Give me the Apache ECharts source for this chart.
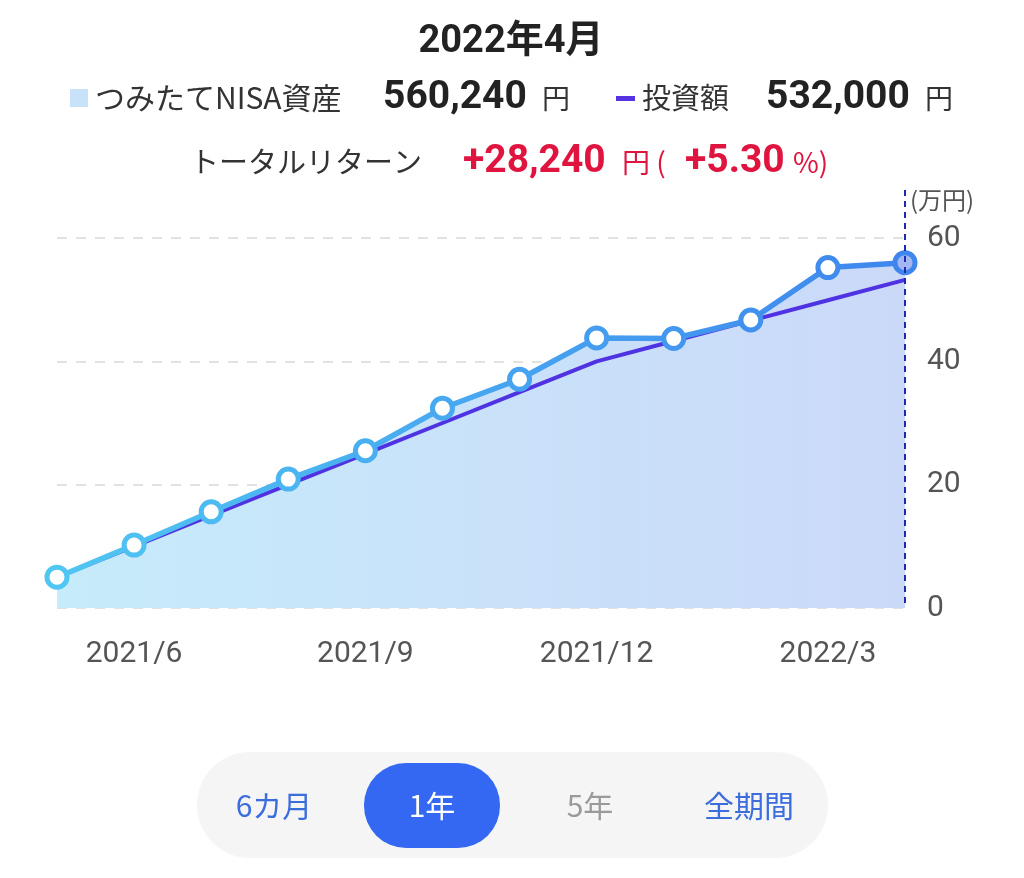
<!DOCTYPE html>
<html><head><meta charset="utf-8">
<script src="https://cdn.jsdelivr.net/npm/echarts@6/dist/echarts.min.js"></script>
<style>html,body{margin:0;padding:0;background:#fff}#c{width:1024px;height:878px}</style>
</head><body><div id="c"></div>
<script>
// ---- data ----
const months = ['2021/5','2021/6','2021/7','2021/8','2021/9','2021/10','2021/11','2021/12','2022/1','2022/2','2022/3','2022/4'];
const assetValues = [5.0, 10.2, 15.6, 20.9, 25.5, 32.4, 37.1, 43.8, 43.7, 46.7, 55.2, 56.0];
const investValues = [5, 10, 15, 20, 25, 30, 35, 40, 43.3, 46.6, 49.9, 53.2];
const yMin = 0, yMax = 60, yStep = 20;
const headerTitle = '2022年4月';
const assetLabel = 'つみたてNISA資産';
const assetTotal = '560,240';
const investLabel = '投資額';
const investTotal = '532,000';
const returnLabel = 'トータルリターン';
const returnAmount = '+28,240';
const returnPct = '+5.30';
const unitLabel = '(万円)';
const periodButtons = ['6カ月', '1年', '5年', '全期間'];

const JP = "'Noto Sans CJK JP', sans-serif";
const NUM = "Roboto, 'Noto Sans CJK JP', sans-serif";

function mix(a, b, t) {
  const pa = [parseInt(a.slice(1,3),16), parseInt(a.slice(3,5),16), parseInt(a.slice(5,7),16)];
  const pb = [parseInt(b.slice(1,3),16), parseInt(b.slice(3,5),16), parseInt(b.slice(5,7),16)];
  return 'rgb(' + pa.map((v,i) => Math.round(v + (pb[i]-v)*t)).join(',') + ')';
}
const C_LEFT = '#50c6f2', C_RIGHT = '#3e86ee';

const chart = echarts.init(document.getElementById('c'), null, {renderer: 'canvas'});
const n = months.length;
const assetPoints = assetValues.map((v, i) => {
  const last = i === n - 1;
  return {
    value: v,
    symbolSize: 20,
    itemStyle: {
      color: last ? '#a3b6f2' : '#ffffff',
      borderColor: mix(C_LEFT, C_RIGHT, i / (n - 1)),
      borderWidth: 5
    }
  };
});

chart.setOption({
  animation: false,
  backgroundColor: '#ffffff',
  grid: {left: 57, right: 119, top: 238, bottom: 270},
  xAxis: {
    type: 'category', data: months, boundaryGap: false,
    axisLine: {show: false}, axisTick: {show: false},
    axisLabel: {
      interval: (idx) => idx % 3 === 1,
      margin: 31, fontSize: 30, color: '#555', fontFamily: NUM
    },
    splitLine: {show: false}
  },
  yAxis: {
    type: 'value', position: 'right', min: yMin, max: yMax, interval: yStep,
    axisLine: {show: false}, axisTick: {show: false},
    axisLabel: {margin: 22, fontSize: 30, color: '#555', fontFamily: NUM},
    splitLine: {show: true, lineStyle: {color: '#e2e2e2', width: 2, type: [10, 9]}}
  },
  series: [
    {
      name: 'area', type: 'line', data: assetValues, symbol: 'none',
      lineStyle: {width: 0}, z: 1,
      areaStyle: {
        opacity: 1,
        color: new echarts.graphic.LinearGradient(0, 0, 1, 0, [
          {offset: 0, color: '#c6ebfa'},
          {offset: 1, color: '#cbd9f9'}
        ])
      }
    },
    {
      name: '投資額', type: 'line', data: investValues, symbol: 'none', z: 2,
      lineStyle: {width: 4, color: '#4f33e2'}
    },
    {
      name: 'つみたてNISA資産', type: 'line', data: assetPoints, symbol: 'circle', z: 3,
      showAllSymbol: true,
      lineStyle: {
        width: 5.5,
        color: new echarts.graphic.LinearGradient(0, 0, 1, 0, [
          {offset: 0, color: C_LEFT},
          {offset: 1, color: C_RIGHT}
        ])
      }
    }
  ]
});

// vertical cursor line at last month, via the chart's scales
const lastX = chart.convertToPixel({xAxisIndex: 0}, months[n - 1]);
const zeroY = chart.convertToPixel({yAxisIndex: 0}, 0);

function txt(x, y, text, font, fill, align) {
  return {type: 'text', x: x, y: y, z: 10,
    style: {text: text, font: font, fill: fill, align: align || 'left', verticalAlign: 'middle'}};
}
const RED = '#e0153f';
chart.setOption({
  graphic: [
    {type: 'line', z: 5, shape: {x1: lastX, y1: 190, x2: lastX, y2: zeroY},
      style: {stroke: '#1b2aae', lineWidth: 2, lineDash: [6, 5]}},
    txt(511, 42, headerTitle, 'bold 38px ' + NUM, '#222', 'center'),
    {type: 'rect', shape: {x: 70, y: 89, width: 18, height: 18}, style: {fill: '#c8e3f9'}},
    txt(95, 98, assetLabel, '30px ' + JP, '#333'),
    txt(383, 98, assetTotal, 'bold 39px ' + NUM, '#222'),
    txt(542, 98, '円', '28px ' + JP, '#333'),
    {type: 'rect', shape: {x: 616, y: 96, width: 19, height: 5}, style: {fill: '#5533e0'}},
    txt(642, 98, investLabel, '29px ' + JP, '#333'),
    txt(766, 98, investTotal, 'bold 39px ' + NUM, '#222'),
    txt(925, 98, '円', '28px ' + JP, '#333'),
    txt(190, 162, returnLabel, '29px ' + JP, '#333'),
    txt(463, 162, returnAmount, 'bold 39px ' + NUM, RED),
    txt(622, 162, '円 (', '28px ' + JP, RED),
    txt(685, 162, returnPct, 'bold 39px ' + NUM, RED),
    txt(793, 162, '%)', '28px ' + JP, RED),
    txt(942, 200, unitLabel, '24px ' + JP, '#555', 'center'),
    {type: 'rect', shape: {x: 197, y: 752, width: 631, height: 106, r: 53}, style: {fill: '#f5f5f6'}},
    {type: 'rect', shape: {x: 364, y: 763, width: 136, height: 85, r: 42}, style: {fill: '#3468f2'}},
    txt(274, 806, periodButtons[0], '30px ' + JP, '#3c6ddd', 'center'),
    txt(432, 806, periodButtons[1], '30px ' + JP, '#ffffff', 'center'),
    txt(590, 806, periodButtons[2], '30px ' + JP, '#9a9a9a', 'center'),
    txt(749, 806, periodButtons[3], '30px ' + JP, '#3c6ddd', 'center')
  ]
});
</script>
</body></html>
